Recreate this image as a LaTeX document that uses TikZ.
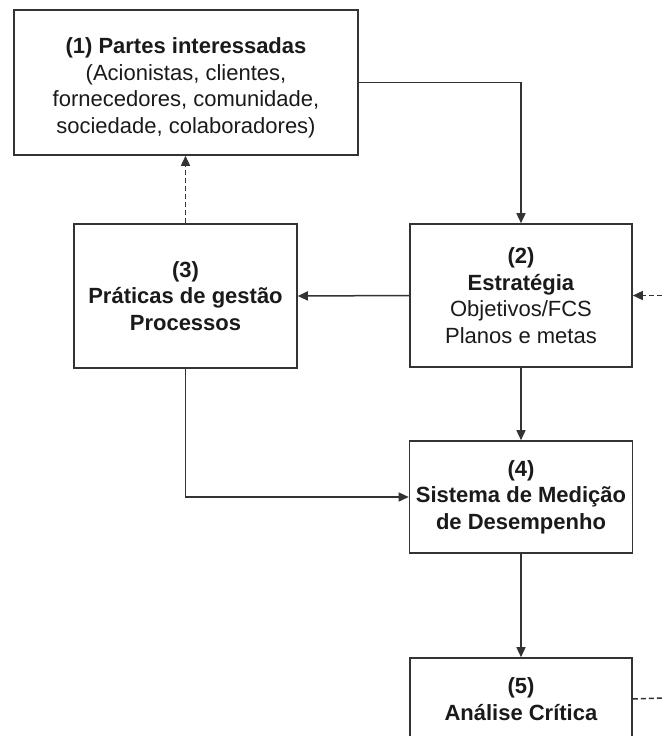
\documentclass[tikz,border=0pt]{standalone}
\usepackage{fontspec}
\setmainfont{Liberation Sans}
\usetikzlibrary{arrows.meta}
\definecolor{linegray}{HTML}{333333}
\definecolor{txt}{HTML}{1A1A1A}
\tikzset{
  boxnode/.style={draw=linegray, line width=1.6pt, rectangle, inner sep=0pt, align=center,
    text=txt, font=\fontsize{22}{26.5}\selectfont},
  textnode/.style={inner sep=0pt, align=center, text=txt, font=\fontsize{22}{26.5}\selectfont},
  conn/.style={draw=linegray, line width=1.5pt, -{Triangle[length=10pt,width=9pt]}},
  dconn/.style={conn, dash pattern=on 5pt off 3pt},
  dline/.style={draw=linegray, line width=1.5pt, dash pattern=on 5pt off 3pt},
}
\begin{document}
\begin{tikzpicture}[x=1pt,y=-1pt]
\useasboundingbox (0,0) rectangle (662,736);
\node[boxnode, minimum width=344pt, minimum height=145pt] (b1) at (186,82.5) {};
\node[textnode] (b1t) at (186,88)
  {\textbf{(1) Partes interessadas}\\(Acionistas, clientes,\\fornecedores, comunidade,\\sociedade, colaboradores)};
\node[boxnode, minimum width=223pt, minimum height=144pt] (b3) at (185.5,296)
  {\textbf{(3)}\\\textbf{Práticas de gestão}\\\textbf{Processos}};
\node[boxnode, minimum width=222pt, minimum height=143pt] (b2) at (521,295.5)
  {\textbf{(2)}\\\textbf{Estratégia}\\Objetivos/FCS\\Planos e metas};
\node[boxnode, minimum width=223pt, minimum height=112pt] (b4) at (521,497)
  {\textbf{(4)}\\\textbf{Sistema de Medição}\\\textbf{de Desempenho}};
\node[boxnode, minimum width=222pt, minimum height=82pt] (b5) at (521,699)
  {\textbf{(5)}\\\textbf{Análise Crítica}};
\coordinate (inR) at (662,295.5);
\coordinate (outR) at (662,698);
\draw[conn] (b1.east) -| (b2.north);
\draw[dconn] (b3.north) -- (b3.north |- b1.south);
\draw[conn] (b2.west) -- (b3.east);
\draw[conn] (b2.south) -- (b4.north);
\draw[conn] (b3.south) |- (b4.west);
\draw[conn] (b4.south) -- (b5.north);
\draw[dconn] (inR) -- (b2.east);
\draw[dline] (b5.east) -- (outR);
\end{tikzpicture}
\end{document}
